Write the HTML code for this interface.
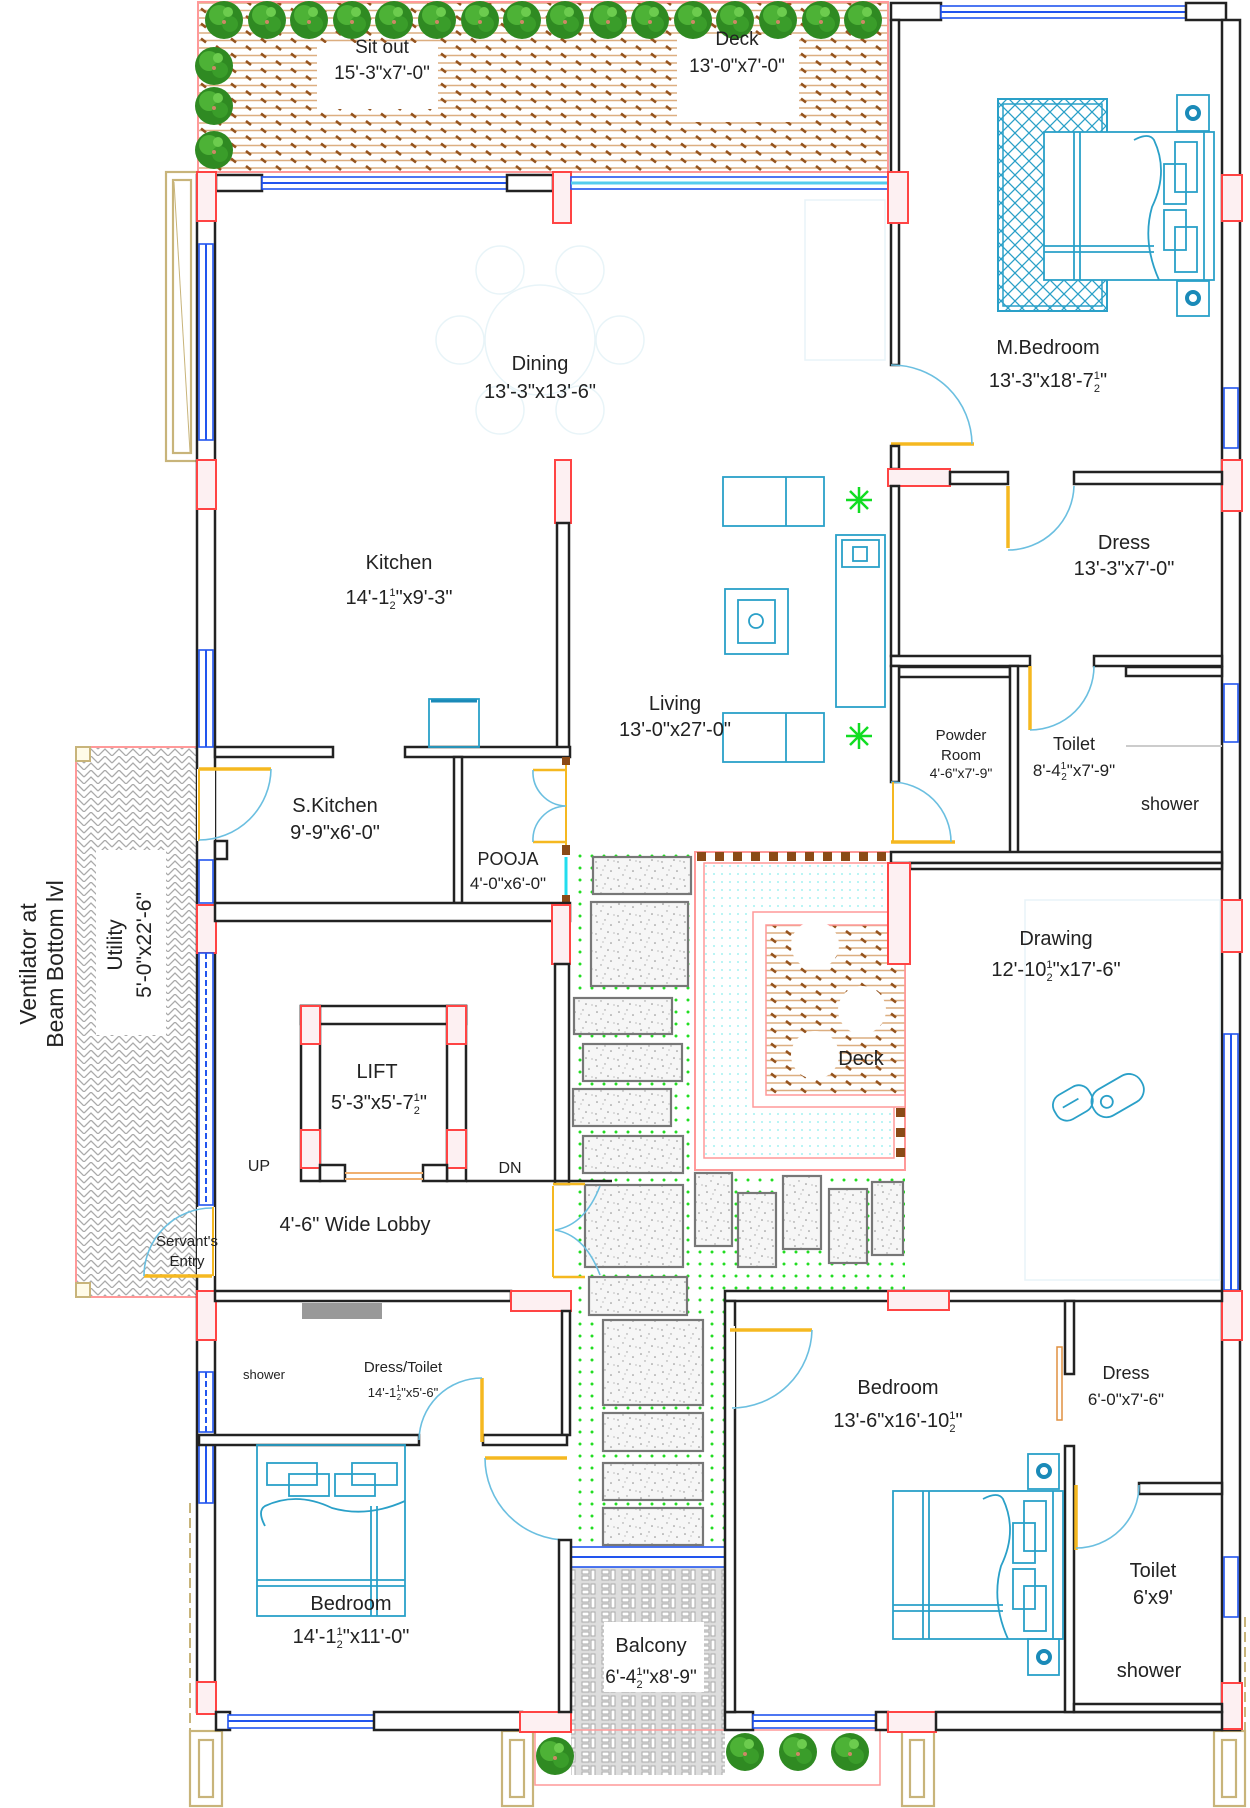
<!DOCTYPE html>
<html><head><meta charset="utf-8"><style>
html,body{margin:0;padding:0;background:#fff}
svg{display:block}
text{font-family:"Liberation Sans",sans-serif;fill:#222}
.w{fill:#fff;stroke:#222;stroke-width:2.5}
.p{fill:#fdf0f2;stroke:#f44;stroke-width:2}
.win{fill:#fff;stroke:#2255ee;stroke-width:1.6}
.tan{fill:#fff;stroke:#c8b47a;stroke-width:2.2}
.st{fill:url(#speck);stroke:#777;stroke-width:2.2}
.door{fill:none;stroke:#6bbfe0;stroke-width:1.6}
.leaf{stroke:#f5b820;stroke-width:3.5}
.cy{fill:none;stroke:#2aa0c8;stroke-width:1.8}
</style></head><body>
<svg width="1250" height="1808" viewBox="0 0 1250 1808" xmlns="http://www.w3.org/2000/svg">
<defs>
<pattern id="deck" width="30" height="15" patternUnits="userSpaceOnUse">
<line x1="0" y1="3" x2="30" y2="3" stroke="#dcae80" stroke-width="1.6"/>
<line x1="0" y1="10.5" x2="30" y2="10.5" stroke="#dcae80" stroke-width="1.6"/>
<line x1="6" y1="1" x2="11" y2="5" stroke="#94531e" stroke-width="2.6"/>
<line x1="21" y1="8.5" x2="26" y2="12.5" stroke="#94531e" stroke-width="2.6"/>
</pattern>
<pattern id="dots" width="12" height="12" patternUnits="userSpaceOnUse"><circle cx="4" cy="4" r="1.5" fill="#22dd22"/></pattern>
<pattern id="cdots" width="8" height="8" patternUnits="userSpaceOnUse"><circle cx="2" cy="2" r="0.9" fill="#8ee"/></pattern>
<pattern id="xh" width="14" height="14" patternUnits="userSpaceOnUse"><path d="M0,0 L14,14 M14,0 L0,14" stroke="#2aa0c8" stroke-width="1.3"/></pattern>
<pattern id="herr" width="14" height="14" patternUnits="userSpaceOnUse">
<path d="M0,7 L7,0 L14,7 M0,14 L7,7 L14,14" fill="none" stroke="#aaa" stroke-width="1.3"/></pattern>
<pattern id="bal" width="20" height="14" patternUnits="userSpaceOnUse">
<rect width="20" height="14" fill="#ddd"/><rect x="2" y="2" width="7" height="4" fill="#fff" stroke="#aaa"/><rect x="11" y="2" width="4" height="10" fill="#fff" stroke="#aaa"/><rect x="2" y="8" width="7" height="4" fill="#fff" stroke="#aaa"/></pattern>
<pattern id="speck" width="22" height="18" patternUnits="userSpaceOnUse">
<rect width="22" height="18" fill="#f6f6f6"/>
<circle cx="3" cy="4" r=".8" fill="#888"/><circle cx="11" cy="2" r=".7" fill="#999"/><circle cx="17" cy="7" r=".8" fill="#888"/><circle cx="7" cy="11" r=".7" fill="#999"/><circle cx="14" cy="14" r=".8" fill="#888"/><circle cx="20" cy="15" r=".6" fill="#999"/><circle cx="2" cy="16" r=".7" fill="#888"/><circle cx="9" cy="6" r=".5" fill="#777"/></pattern>
<g id="tree"><circle r="19" fill="#2f8a22"/><circle cx="-5" cy="-5" r="10" fill="#4db236"/><circle cx="6" cy="4" r="8" fill="#3a9d2a"/><circle cx="4" cy="-8" r="5" fill="#6ccc4e"/><circle cx="0" cy="2" r="2" fill="#c86"/></g>
<g id="bed">
<rect x="0" y="0" width="170" height="148" class="cy"/>
<line x1="30" y1="0" x2="30" y2="148" class="cy"/><line x1="36" y1="0" x2="36" y2="148" class="cy"/>
<line x1="0" y1="114" x2="110" y2="114" class="cy"/><line x1="0" y1="120" x2="110" y2="120" class="cy"/>
<path d="M90,8 Q105,0 110,8 Q125,40 108,75 Q98,110 115,148" class="cy"/>
<rect x="131" y="10" width="22" height="50" class="cy"/><rect x="120" y="32" width="22" height="40" class="cy"/>
<rect x="120" y="78" width="22" height="40" class="cy"/><rect x="131" y="95" width="22" height="45" class="cy"/>
<line x1="160" y1="0" x2="160" y2="148" class="cy"/>
</g>
</defs>

<!-- top strip -->
<rect x="198" y="2" width="690" height="170" fill="url(#deck)" stroke="#f99" stroke-width="2"/>
<rect x="317" y="43" width="121" height="66" fill="#fff"/>
<rect x="677" y="35" width="122" height="87" fill="#fff"/>
<g>
<use href="#tree" x="224" y="20"/><use href="#tree" x="267" y="20"/><use href="#tree" x="309" y="20"/><use href="#tree" x="352" y="20"/><use href="#tree" x="394" y="20"/><use href="#tree" x="437" y="20"/><use href="#tree" x="480" y="20"/><use href="#tree" x="522" y="20"/><use href="#tree" x="565" y="20"/><use href="#tree" x="608" y="20"/><use href="#tree" x="650" y="20"/><use href="#tree" x="693" y="20"/><use href="#tree" x="735" y="20"/><use href="#tree" x="778" y="20"/><use href="#tree" x="821" y="20"/><use href="#tree" x="863" y="20"/>
<use href="#tree" x="214" y="66"/><use href="#tree" x="214" y="106"/><use href="#tree" x="214" y="150"/>
</g>
<text x="382" y="53" font-size="19" text-anchor="middle">Sit out</text>
<text x="382" y="79" font-size="19" text-anchor="middle">15'-3"x7'-0"</text>
<text x="737" y="45" font-size="19" text-anchor="middle">Deck</text>
<text x="737" y="72" font-size="19" text-anchor="middle">13'-0"x7'-0"</text>

<!-- left tan column -->
<rect x="166" y="172" width="32" height="289" class="tan"/><rect x="173" y="180" width="18" height="273" class="tan"/>
<line x1="174" y1="182" x2="190" y2="452" stroke="#c8b47a"/>

<!-- utility -->
<rect x="76" y="747" width="121" height="550" fill="url(#herr)" stroke="#f99" stroke-width="2"/>
<rect x="96" y="850" width="70" height="185" fill="#fff"/>
<rect x="76" y="747" width="14" height="14" fill="#fffbe8" stroke="#c8b47a" stroke-width="2"/>
<rect x="76" y="1283" width="14" height="14" fill="#fffbe8" stroke="#c8b47a" stroke-width="2"/>
<text transform="translate(122,945) rotate(-90)" font-size="21" text-anchor="middle">Utility</text>
<text transform="translate(151,945) rotate(-90)" font-size="21" text-anchor="middle">5'-0"x22'-6"</text>
<text transform="translate(36,964) rotate(-90)" font-size="23" text-anchor="middle">Ventilator at</text>
<text transform="translate(63,964) rotate(-90)" font-size="23" text-anchor="middle">Beam Bottom lvl</text>

<!-- courtyard -->
<rect x="570" y="852" width="335" height="439" fill="url(#dots)"/>
<rect x="570" y="1291" width="155" height="256" fill="url(#dots)"/>
<rect x="695" y="852" width="210" height="318" fill="#fff" stroke="#f99" stroke-width="2"/>
<rect x="704" y="863" width="190" height="295" fill="url(#cdots)" stroke="#f99" stroke-width="1.5"/>
<rect x="753" y="912" width="152" height="195" fill="#fff" stroke="#f99" stroke-width="1.5"/>
<rect x="766" y="925" width="139" height="170" fill="url(#deck)" stroke="#f99" stroke-width="1.5"/>
<circle cx="815" cy="945" r="24" fill="#fff"/><circle cx="862" cy="1010" r="24" fill="#fff"/><circle cx="815" cy="1055" r="24" fill="#fff"/>
<text x="861" y="1065" font-size="20" text-anchor="middle">Deck</text>
<g fill="#8b4a16">
<rect x="697" y="852" width="9" height="9"/><rect x="715" y="852" width="9" height="9"/><rect x="733" y="852" width="9" height="9"/><rect x="751" y="852" width="9" height="9"/><rect x="769" y="852" width="9" height="9"/><rect x="787" y="852" width="9" height="9"/><rect x="805" y="852" width="9" height="9"/><rect x="823" y="852" width="9" height="9"/><rect x="841" y="852" width="9" height="9"/><rect x="859" y="852" width="9" height="9"/><rect x="877" y="852" width="9" height="9"/>
<rect x="896" y="1108" width="9" height="9"/><rect x="896" y="1128" width="9" height="9"/><rect x="896" y="1148" width="9" height="9"/>
</g>
<rect x="593" y="857" width="98" height="37" class="st"/><rect x="591" y="902" width="97" height="84" class="st"/>
<rect x="574" y="998" width="98" height="36" class="st"/><rect x="583" y="1044" width="99" height="37" class="st"/>
<rect x="573" y="1089" width="98" height="37" class="st"/><rect x="583" y="1136" width="100" height="37" class="st"/>
<rect x="585" y="1185" width="98" height="82" class="st"/>
<rect x="695" y="1173" width="37" height="73" class="st"/><rect x="738" y="1193" width="38" height="74" class="st"/>
<rect x="783" y="1176" width="38" height="73" class="st"/><rect x="829" y="1189" width="38" height="74" class="st"/>
<rect x="872" y="1182" width="31" height="73" class="st"/>
<rect x="589" y="1277" width="98" height="38" class="st"/><rect x="603" y="1320" width="100" height="85" class="st"/>
<rect x="603" y="1413" width="100" height="38" class="st"/><rect x="603" y="1463" width="100" height="37" class="st"/>
<rect x="603" y="1508" width="100" height="37" class="st"/>

<!-- balcony -->
<rect x="571" y="1567" width="154" height="208" fill="url(#bal)"/>
<rect x="604" y="1622" width="100" height="70" fill="#fff"/>
<text x="651" y="1652" font-size="20" text-anchor="middle">Balcony</text>
<text x="651" y="1683" font-size="19" text-anchor="middle">6'-4<tspan font-size="11" dy="-8">1</tspan><tspan font-size="11" dx="-6" dy="13">2</tspan><tspan dy="-5">"x8'-9"</tspan></text>
<rect x="535" y="1730" width="345" height="55" fill="none" stroke="#f99" stroke-width="1.5"/>
<use href="#tree" x="555" y="1756"/><use href="#tree" x="745" y="1752"/><use href="#tree" x="798" y="1752"/><use href="#tree" x="850" y="1752"/>
<rect x="571" y="1547" width="154" height="20" class="win"/><line x1="571" y1="1557" x2="725" y2="1557" stroke="#2255ee" stroke-width="2"/>

<!-- bottom tan columns -->
<rect x="190" y="1731" width="32" height="75" class="tan"/><rect x="199" y="1740" width="14" height="57" class="tan"/>
<rect x="502" y="1731" width="31" height="75" class="tan"/><rect x="510" y="1740" width="14" height="57" class="tan"/>
<rect x="902" y="1731" width="32" height="75" class="tan"/><rect x="910" y="1740" width="14" height="57" class="tan"/>
<rect x="1214" y="1731" width="31" height="75" class="tan"/><rect x="1222" y="1740" width="14" height="57" class="tan"/>
<line x1="190" y1="1503" x2="190" y2="1731" stroke="#c8b47a" stroke-width="2" stroke-dasharray="10,5"/>
<line x1="1245" y1="1617" x2="1245" y2="1731" stroke="#c8b47a" stroke-width="2" stroke-dasharray="10,5"/>

<!-- ===== walls ===== -->
<rect x="216" y="175" width="46" height="16" class="w"/>
<rect x="262" y="177" width="245" height="12" class="win"/><line x1="262" y1="183" x2="507" y2="183" stroke="#2255ee" stroke-width="2"/>
<rect x="507" y="175" width="46" height="16" class="w"/>
<rect x="553" y="172" width="18" height="51" class="p"/>
<rect x="571" y="177" width="317" height="12" class="win"/><line x1="571" y1="183" x2="888" y2="183" stroke="#55ccee" stroke-width="3"/>
<rect x="891" y="3" width="50" height="17" class="w"/>
<rect x="941" y="6" width="245" height="12" class="win"/><line x1="941" y1="12" x2="1186" y2="12" stroke="#2255ee" stroke-width="2"/>
<rect x="1186" y="3" width="40" height="17" class="w"/>
<rect x="1222" y="20" width="18" height="1710" class="w"/>
<rect x="1222" y="175" width="20" height="46" class="p"/>
<rect x="1224" y="388" width="14" height="60" class="win"/>
<rect x="1222" y="460" width="20" height="51" class="p"/>
<rect x="1224" y="684" width="14" height="58" class="win"/>
<rect x="1222" y="900" width="20" height="52" class="p"/>
<rect x="1224" y="1034" width="14" height="256" class="win"/><line x1="1231" y1="1034" x2="1231" y2="1290" stroke="#2255ee" stroke-width="2"/>
<rect x="1222" y="1291" width="20" height="49" class="p"/>
<rect x="1224" y="1557" width="14" height="60" class="win"/>
<rect x="1222" y="1683" width="20" height="46" class="p"/>
<rect x="197" y="175" width="18" height="1537" class="w"/>
<rect x="197" y="172" width="19" height="49" class="p"/>
<rect x="199" y="244" width="14" height="196" class="win"/><line x1="206" y1="244" x2="206" y2="440" stroke="#2255ee" stroke-width="2"/>
<rect x="197" y="460" width="19" height="49" class="p"/>
<rect x="199" y="650" width="14" height="97" class="win"/><line x1="206" y1="650" x2="206" y2="747" stroke="#2255ee" stroke-width="2"/>
<rect x="197" y="769" width="18" height="72" fill="#fff"/><line x1="199" y1="769" x2="199" y2="841" stroke="#f5b820" stroke-width="2"/>
<rect x="199" y="860" width="14" height="43" class="win"/>
<rect x="197" y="905" width="19" height="48" class="p"/>
<rect x="199" y="953" width="14" height="252" class="win"/><line x1="206" y1="953" x2="206" y2="1205" stroke="#2255ee" stroke-width="2" stroke-dasharray="6,3"/>
<rect x="197" y="1207" width="18" height="69" fill="#fff"/><line x1="213" y1="1207" x2="213" y2="1276" stroke="#f5b820" stroke-width="2"/>
<rect x="197" y="1291" width="19" height="49" class="p"/>
<rect x="199" y="1372" width="14" height="60" class="win"/><line x1="206" y1="1372" x2="206" y2="1432" stroke="#2255ee" stroke-width="2" stroke-dasharray="6,3"/>
<rect x="199" y="1443" width="14" height="60" class="win"/><line x1="206" y1="1443" x2="206" y2="1503" stroke="#2255ee" stroke-width="2"/>
<rect x="197" y="1682" width="19" height="32" class="p"/>
<rect x="216" y="1712" width="14" height="18" class="w"/>
<rect x="228" y="1715" width="146" height="13" class="win"/><line x1="228" y1="1721" x2="374" y2="1721" stroke="#2255ee" stroke-width="2"/>
<rect x="374" y="1712" width="148" height="18" class="w"/>
<rect x="520" y="1712" width="51" height="20" class="p"/>
<rect x="725" y="1712" width="28" height="18" class="w"/>
<rect x="753" y="1715" width="123" height="13" class="win"/><line x1="753" y1="1721" x2="876" y2="1721" stroke="#2255ee" stroke-width="2"/>
<rect x="876" y="1712" width="12" height="18" class="w"/>
<rect x="888" y="1712" width="48" height="20" class="p"/>
<rect x="936" y="1712" width="286" height="18" class="w"/>

<rect x="891" y="20" width="8" height="345" class="w"/>
<rect x="888" y="172" width="20" height="51" class="p"/>
<line class="leaf" x1="891" y1="444" x2="974" y2="444"/>
<path class="door" d="M891,365 A80,80 0 0 1 972,444"/>
<rect x="891" y="446" width="8" height="23" class="w"/>
<rect x="888" y="469" width="62" height="17" class="p"/>
<rect x="950" y="472" width="58" height="12" class="w"/>
<rect x="1074" y="472" width="148" height="12" class="w"/>
<line class="leaf" x1="1008" y1="486" x2="1008" y2="548"/>
<path class="door" d="M1074,486 A66,66 0 0 1 1008,550"/>
<rect x="891" y="486" width="8" height="170" class="w"/>
<rect x="891" y="656" width="139" height="10" class="w"/>
<rect x="1094" y="656" width="128" height="10" class="w"/>
<line class="leaf" x1="1030" y1="666" x2="1030" y2="730"/>
<path class="door" d="M1094,666 A64,64 0 0 1 1030,730"/>
<rect x="899" y="667" width="111" height="10" class="w"/>
<rect x="1010" y="666" width="8" height="190" class="w"/>
<rect x="1126" y="667" width="96" height="9" class="w"/>
<rect x="1126" y="745" width="96" height="2" fill="#ccc"/>
<rect x="891" y="666" width="8" height="116" class="w"/>
<line class="leaf" x1="891" y1="842" x2="955" y2="842"/>
<path class="door" d="M891,782 A60,60 0 0 1 951,842"/>
<line x1="893" y1="782" x2="893" y2="842" stroke="#f5b820" stroke-width="2"/>
<rect x="891" y="852" width="331" height="11" class="w"/>
<rect x="910" y="863" width="312" height="6" class="w"/>
<rect x="888" y="863" width="22" height="101" class="p"/>

<rect x="555" y="460" width="16" height="63" class="p"/>
<rect x="557" y="523" width="12" height="230" class="w"/>
<rect x="215" y="747" width="118" height="10" class="w"/>
<rect x="405" y="747" width="165" height="10" class="w"/>
<rect x="454" y="757" width="8" height="146" class="w"/>
<rect x="562" y="757" width="8" height="8" fill="#8b4a16"/><rect x="562" y="845" width="8" height="10" fill="#8b4a16"/><rect x="562" y="895" width="8" height="8" fill="#8b4a16"/>
<line x1="566" y1="765" x2="566" y2="845" stroke="#f5b820" stroke-width="2"/>
<line x1="566" y1="857" x2="566" y2="895" stroke="#22ddee" stroke-width="3"/>
<line class="leaf" x1="533" y1="770" x2="566" y2="770" style="stroke-width:2.5"/>
<line class="leaf" x1="533" y1="842" x2="566" y2="842" style="stroke-width:2.5"/>
<path class="door" d="M533,770 A34,34 0 0 0 566,806 A34,34 0 0 0 533,842"/>
<line class="leaf" x1="199" y1="769" x2="271" y2="769"/>
<path class="door" d="M271,769 A72,72 0 0 1 199,840"/>
<rect x="215" y="841" width="12" height="18" class="w"/>
<rect x="215" y="903" width="239" height="2" fill="#222"/>
<rect x="215" y="903" width="355" height="18" class="w"/>
<rect x="552" y="905" width="18" height="59" class="p"/>
<rect x="555" y="964" width="14" height="220" class="w"/>
<rect x="301" y="1006" width="165" height="18" class="w"/>
<rect x="301" y="1006" width="19" height="175" class="w"/>
<rect x="447" y="1006" width="19" height="175" class="w"/>
<rect x="301" y="1006" width="19" height="38" class="p"/><rect x="447" y="1006" width="19" height="38" class="p"/>
<rect x="301" y="1130" width="19" height="38" class="p"/><rect x="447" y="1130" width="19" height="38" class="p"/>
<rect x="320" y="1165" width="25" height="16" class="w"/><rect x="423" y="1165" width="24" height="16" class="w"/>
<line x1="345" y1="1173" x2="423" y2="1173" stroke="#f0b070" stroke-width="2"/><line x1="345" y1="1179" x2="423" y2="1179" stroke="#f0b070" stroke-width="2"/>
<line x1="466" y1="1181" x2="612" y2="1181" stroke="#222" stroke-width="2.5"/>
<line x1="553" y1="1186" x2="553" y2="1277" stroke="#f5b820" stroke-width="2"/>
<line class="leaf" x1="553" y1="1184" x2="585" y2="1184" style="stroke-width:2.5"/>
<line class="leaf" x1="553" y1="1277" x2="585" y2="1277" style="stroke-width:2.5"/>
<path class="door" d="M600,1186 Q585,1225 555,1230 Q585,1235 600,1275"/>
<line class="leaf" x1="144" y1="1276" x2="212" y2="1276"/>
<path class="door" d="M212,1208 A68,68 0 0 0 144,1276"/>
<rect x="215" y="1291" width="296" height="10" class="w"/>
<rect x="511" y="1291" width="60" height="20" class="p"/>
<rect x="302" y="1303" width="80" height="16" fill="#999"/>
<rect x="562" y="1311" width="8" height="124" class="w"/>
<rect x="199" y="1435" width="220" height="10" class="w"/>
<rect x="483" y="1435" width="84" height="10" class="w"/>
<line class="leaf" x1="482" y1="1378" x2="482" y2="1442"/>
<path class="door" d="M419,1440 A63,63 0 0 1 482,1378"/>
<line class="leaf" x1="485" y1="1458" x2="567" y2="1458"/>
<path class="door" d="M485,1458 A82,82 0 0 0 567,1540"/>
<rect x="559" y="1540" width="12" height="172" class="w"/>
<rect x="725" y="1291" width="497" height="10" class="w"/>
<rect x="888" y="1291" width="61" height="19" class="p"/>
<rect x="725" y="1301" width="10" height="411" class="w"/>
<rect x="727" y="1326" width="8" height="83" fill="#fff"/>
<line class="leaf" x1="730" y1="1330" x2="812" y2="1330"/>
<path class="door" d="M812,1330 A80,80 0 0 1 732,1408"/>
<rect x="1065" y="1301" width="9" height="73" class="w"/>
<rect x="1057" y="1347" width="5" height="73" fill="#fff" stroke="#e09040" stroke-width="1.5"/>
<rect x="1065" y="1446" width="9" height="266" class="w"/>
<rect x="1139" y="1483" width="83" height="11" class="w"/>
<line class="leaf" x1="1076" y1="1485" x2="1076" y2="1550"/>
<path class="door" d="M1139,1485 A63,63 0 0 1 1076,1548"/>
<rect x="1074" y="1704" width="148" height="8" class="w"/>

<!-- furniture -->
<rect x="998" y="99" width="109" height="212" fill="url(#xh)" stroke="#2aa0c8" stroke-width="2"/>
<rect x="1003" y="104" width="99" height="202" fill="none" stroke="#2aa0c8" stroke-width="1.5"/>
<rect x="1044" y="132" width="170" height="148" fill="#fff"/>
<use href="#bed" x="1044" y="132"/>
<rect x="1177" y="95" width="32" height="36" class="cy"/><circle cx="1193" cy="113" r="6" fill="none" stroke="#1a8ab8" stroke-width="4"/>
<rect x="1177" y="281" width="32" height="35" class="cy"/><circle cx="1193" cy="298" r="6" fill="none" stroke="#1a8ab8" stroke-width="4"/>
<use href="#bed" x="893" y="1491"/>
<rect x="1028" y="1454" width="31" height="35" class="cy"/><circle cx="1044" cy="1471" r="6" fill="none" stroke="#1a8ab8" stroke-width="4"/>
<rect x="1028" y="1639" width="31" height="36" class="cy"/><circle cx="1044" cy="1657" r="6" fill="none" stroke="#1a8ab8" stroke-width="4"/>
<g transform="translate(257,1616) rotate(-90)"><rect x="0" y="0" width="171" height="148" class="cy"/><line x1="30" y1="0" x2="30" y2="148" class="cy"/><line x1="36" y1="0" x2="36" y2="148" class="cy"/><line x1="0" y1="114" x2="110" y2="114" class="cy"/><line x1="0" y1="120" x2="110" y2="120" class="cy"/><path d="M90,8 Q105,0 110,8 Q125,40 108,75 Q98,110 115,148" class="cy"/><rect x="131" y="10" width="22" height="50" class="cy"/><rect x="120" y="32" width="22" height="40" class="cy"/><rect x="120" y="78" width="22" height="40" class="cy"/><rect x="131" y="95" width="22" height="45" class="cy"/></g>
<rect x="723" y="477" width="101" height="49" class="cy"/><line x1="786" y1="477" x2="786" y2="526" class="cy"/>
<rect x="723" y="713" width="101" height="49" class="cy"/><line x1="786" y1="713" x2="786" y2="762" class="cy"/>
<rect x="725" y="589" width="63" height="65" class="cy"/><rect x="738" y="600" width="37" height="43" class="cy"/><circle cx="756" cy="621" r="7" class="cy"/>
<rect x="836" y="535" width="49" height="172" class="cy"/><rect x="842" y="540" width="37" height="27" class="cy"/><rect x="853" y="547" width="14" height="14" class="cy"/>
<g stroke="#11dd22" stroke-width="2.5"><path d="M846,500 h26 M859,487 v26 M850,491 l18,18 M868,491 l-18,18"/><path d="M846,736 h26 M859,723 v26 M850,727 l18,18 M868,727 l-18,18"/></g>
<rect x="429" y="699" width="50" height="48" class="cy"/><line x1="431" y1="701" x2="477" y2="701" stroke="#1a8ab8" stroke-width="3"/>
<g transform="translate(1100,1100) rotate(-30)"><rect x="-45" y="-25" width="40" height="28" rx="12" class="cy"/><rect x="-10" y="-10" width="55" height="30" rx="14" class="cy"/><circle cx="5" cy="5" r="6" class="cy"/><line x1="-36" y1="-12" x2="-18" y2="-12" class="cy"/></g>
<g fill="none" stroke="#e8f4f8" stroke-width="1.5">
<circle cx="540" cy="340" r="55"/><circle cx="500" cy="270" r="24"/><circle cx="580" cy="270" r="24"/><circle cx="460" cy="340" r="24"/><circle cx="620" cy="340" r="24"/><circle cx="500" cy="410" r="24"/><circle cx="580" cy="410" r="24"/>
<rect x="805" y="200" width="80" height="160"/><rect x="1025" y="900" width="195" height="380"/>
</g>

<!-- labels -->
<g text-anchor="middle">
<text x="540" y="370" font-size="20">Dining</text>
<text x="540" y="398" font-size="20">13'-3"x13'-6"</text>
<text x="1048" y="354" font-size="20">M.Bedroom</text>
<text x="1048" y="387" font-size="20">13'-3"x18'-7<tspan font-size="11" dy="-8">1</tspan><tspan font-size="11" dx="-6" dy="13">2</tspan><tspan dy="-5">"</tspan></text>
<text x="399" y="569" font-size="20">Kitchen</text>
<text x="399" y="604" font-size="20">14'-1<tspan font-size="11" dy="-8">1</tspan><tspan font-size="11" dx="-6" dy="13">2</tspan><tspan dy="-5">"x9'-3"</tspan></text>
<text x="1124" y="549" font-size="20">Dress</text>
<text x="1124" y="575" font-size="20">13'-3"x7'-0"</text>
<text x="675" y="710" font-size="20">Living</text>
<text x="675" y="736" font-size="20">13'-0"x27'-0"</text>
<text x="961" y="740" font-size="15">Powder</text>
<text x="961" y="760" font-size="15">Room</text>
<text x="961" y="778" font-size="14">4'-6"x7'-9"</text>
<text x="1074" y="750" font-size="18">Toilet</text>
<text x="1074" y="776" font-size="17">8'-4<tspan font-size="10" dy="-7">1</tspan><tspan font-size="10" dx="-5" dy="11">2</tspan><tspan dy="-4">"x7'-9"</tspan></text>
<text x="1170" y="810" font-size="18">shower</text>
<text x="335" y="812" font-size="20">S.Kitchen</text>
<text x="335" y="839" font-size="20">9'-9"x6'-0"</text>
<text x="508" y="865" font-size="18">POOJA</text>
<text x="508" y="889" font-size="17">4'-0"x6'-0"</text>
<text x="1056" y="945" font-size="20">Drawing</text>
<text x="1056" y="976" font-size="20">12'-10<tspan font-size="11" dy="-8">1</tspan><tspan font-size="11" dx="-6" dy="13">2</tspan><tspan dy="-5">"x17'-6"</tspan></text>
<text x="377" y="1078" font-size="20">LIFT</text>
<text x="379" y="1109" font-size="20">5'-3"x5'-7<tspan font-size="11" dy="-8">1</tspan><tspan font-size="11" dx="-6" dy="13">2</tspan><tspan dy="-5">"</tspan></text>
<text x="259" y="1171" font-size="16">UP</text>
<text x="510" y="1173" font-size="16">DN</text>
<text x="355" y="1231" font-size="20">4'-6" Wide Lobby</text>
<text x="187" y="1246" font-size="15">Servant's</text>
<text x="187" y="1266" font-size="15">Entry</text>
<text x="264" y="1379" font-size="13">shower</text>
<text x="403" y="1372" font-size="15">Dress/Toilet</text>
<text x="403" y="1397" font-size="13">14'-1<tspan font-size="8" dy="-6">1</tspan><tspan font-size="8" dx="-4" dy="9">2</tspan><tspan dy="-3">"x5'-6"</tspan></text>
<text x="351" y="1610" font-size="20">Bedroom</text>
<text x="351" y="1643" font-size="20">14'-1<tspan font-size="11" dy="-8">1</tspan><tspan font-size="11" dx="-6" dy="13">2</tspan><tspan dy="-5">"x11'-0"</tspan></text>
<text x="898" y="1394" font-size="20">Bedroom</text>
<text x="898" y="1427" font-size="20">13'-6"x16'-10<tspan font-size="11" dy="-8">1</tspan><tspan font-size="11" dx="-6" dy="13">2</tspan><tspan dy="-5">"</tspan></text>
<text x="1126" y="1379" font-size="18">Dress</text>
<text x="1126" y="1405" font-size="17">6'-0"x7'-6"</text>
<text x="1153" y="1577" font-size="20">Toilet</text>
<text x="1153" y="1604" font-size="20">6'x9'</text>
<text x="1149" y="1677" font-size="20">shower</text>
</g>
</svg>
</body></html>
